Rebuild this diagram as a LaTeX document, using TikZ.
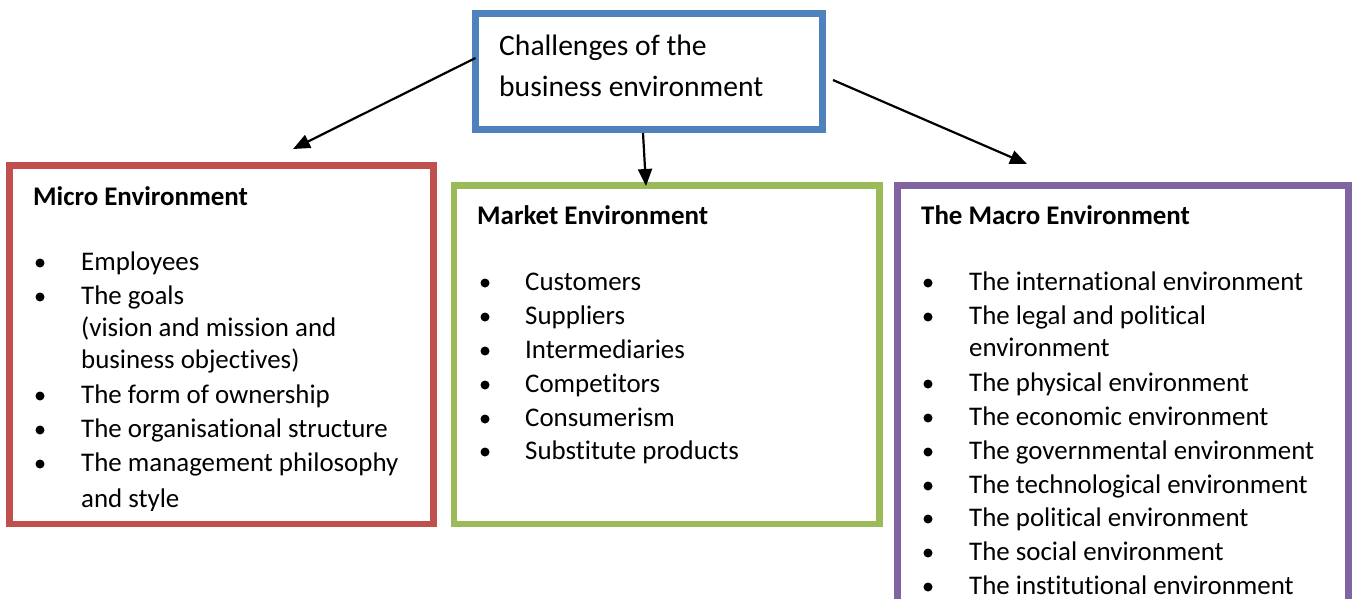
\documentclass[tikz,border=0pt]{standalone}
\usepackage{fontspec}
\setmainfont{Carlito}[Ligatures=NoCommon]
\usetikzlibrary{positioning, arrows.meta}
\definecolor{topblue}{HTML}{4F81BD}
\definecolor{microred}{HTML}{C0504D}
\definecolor{marketgreen}{HTML}{9BBB59}
\definecolor{macropurple}{HTML}{8064A2}

\begin{document}
\begin{tikzpicture}[x=1pt, y=-1pt,
        frame/.style={rectangle, draw, line width=6.5pt, anchor=north west, inner sep=0pt, outer sep=0pt},
        txt/.style={anchor=base west, inner sep=0pt, font=\fontsize{26.9}{30}\selectfont},
        head/.style={txt, font=\fontsize{26.9}{30}\selectfont\bfseries},
        dot/.style={circle, fill=black, minimum size=9pt, inner sep=0pt},
        arrow/.style={line width=2.2pt, -{Triangle[length=17pt, width=14pt]}}
    ]
        \useasboundingbox (0,0) rectangle (1355,598);

        \node[frame, draw=topblue, minimum width=347pt, minimum height=116pt] (top) at (475.5,13.5) {};
        \node[txt, font=\fontsize{29.6}{34}\selectfont] (title1) at (499,55) {Challenges of the};
        \node[txt, font=\fontsize{29.6}{34}\selectfont] (title2) at (499,96) {business environment};

        \node[frame, draw=microred, minimum width=424pt, minimum height=358.5pt] (micro) at (9.5,165.5) {};
        \node[frame, draw=marketgreen, minimum width=425.5pt, minimum height=338.5pt] (market) at (454,185.5) {};
        \node[frame, draw=macropurple, minimum width=451pt, minimum height=440pt] (macro) at (897.5,185.5) {};

        \node[head] (microhead) at (33,205) {Micro Environment};
        \node[head] (markethead) at (477,224) {Market Environment};
        \node[head] (macrohead) at (921,224) {The Macro Environment};

        % micro list
        \begin{scope}
            \clip (13,169) rectangle (430,510);
            \foreach \y/\t [count=\i] in {270/Employees, 304/The goals, 403/The form of ownership,
                    437/The organisational structure, 471/The management philosophy} {
                \node[dot] (microdot-\i) at (40,\y-7) {};
                \node[txt] (microitem-\i) at (81,\y) {\t};
            }
            \node[txt] (microcont-1) at (81,336) {(vision and mission and};
            \node[txt] (microcont-2) at (81,368) {business objectives)};
            \node[txt] (microcont-3) at (81,507) {and style};
        \end{scope}

        % market list
        \foreach \y/\t [count=\i] in {290/Customers, 324/Suppliers, 358/Intermediaries,
                392/Competitors, 426/Consumerism, 459/Substitute products} {
            \node[dot] (marketdot-\i) at (485,\y-7) {};
            \node[txt] (marketitem-\i) at (525,\y) {\t};
        }

        % macro list
        \begin{scope}
            \clip (901,189) rectangle (1345,598);
            \foreach \y/\t [count=\i] in {290/The international environment, 324/The legal and political,
                    391/The physical environment, 425/The economic environment,
                    459/The governmental environment, 493/The technological environment,
                    526/The political environment, 560/The social environment,
                    594/The institutional environment} {
                \node[dot] (macrodot-\i) at (928,\y-7) {};
                \node[txt] (macroitem-\i) at (969,\y) {\t};
            }
            \node[txt] (macrocont-1) at (969,356) {environment};
        \end{scope}

        \coordinate (leftend) at (293,149);
        \coordinate (midstart) at (643,133);
        \coordinate (midend) at (646,186);
        \coordinate (rightstart) at (833,80);
        \coordinate (rightend) at (1027,164);

        \draw[arrow] ([yshift=13.5pt]top.west) -- (leftend);
        \draw[arrow] (midstart) -- (midend);
        \draw[arrow] (rightstart) -- (rightend);
    \end{tikzpicture}
\end{document}
